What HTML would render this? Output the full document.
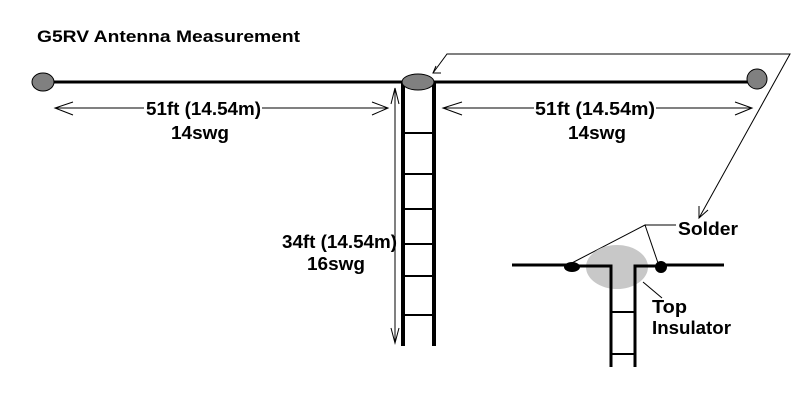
<!DOCTYPE html>
<html><head><style>body{margin:0;background:#fff}svg{display:block}text{font-family:"Liberation Sans",Arial,sans-serif;font-weight:bold;fill:#000}</style></head>
<body>
<svg width="800" height="415" viewBox="0 0 800 415" xmlns="http://www.w3.org/2000/svg">
<text x="37" y="42" font-size="17" textLength="263" lengthAdjust="spacingAndGlyphs">G5RV Antenna Measurement</text>
<line x1="43" y1="82" x2="757" y2="82" stroke="#000" stroke-width="3"/>
<ellipse cx="43" cy="82" rx="11" ry="9" fill="#808080" stroke="#000" stroke-width="1"/>
<ellipse cx="757" cy="79" rx="10" ry="10" fill="#808080" stroke="#000" stroke-width="1"/>
<g stroke="#000" stroke-width="4">
<line x1="403" y1="82" x2="403" y2="346"/>
<line x1="434" y1="82" x2="434" y2="346"/>
</g>
<g stroke="#000" stroke-width="2">
<line x1="403" y1="133" x2="434" y2="133"/>
<line x1="403" y1="174" x2="434" y2="174"/>
<line x1="403" y1="209" x2="434" y2="209"/>
<line x1="403" y1="244" x2="434" y2="244"/>
<line x1="403" y1="276" x2="434" y2="276"/>
<line x1="403" y1="315" x2="434" y2="315"/>
</g>
<ellipse cx="418" cy="82" rx="16" ry="8" fill="#808080" stroke="#000" stroke-width="1"/>
<g stroke="#000" stroke-width="1" fill="none">
<line x1="55" y1="108" x2="144" y2="108"/><line x1="262" y1="108" x2="388" y2="108"/>
<polyline points="73,102 55,108 73,115"/><polyline points="372,102 388,108 372,115"/>
<line x1="443" y1="108" x2="534" y2="108"/><line x1="656" y1="108" x2="752" y2="108"/>
<polyline points="462,102 443,108 462,115"/><polyline points="735,102 752,108 735,115"/>
<line x1="395" y1="88" x2="395" y2="343"/>
<polyline points="391,104 395,88 399,104"/><polyline points="391,328 395,343 399,328"/>
<polyline points="433,73 447,54 790,54 699,218"/>
<polyline points="436,66 433,73 441,73"/>
<polyline points="699,206 699,218 708,210"/>
<polyline points="568,265 645,225 658,263"/>
<line x1="645" y1="225" x2="676" y2="225"/>
<line x1="643" y1="282" x2="662" y2="298"/>
</g>
<text x="146" y="115" font-size="18" textLength="115" lengthAdjust="spacingAndGlyphs">51ft (14.54m)</text>
<text x="171" y="139" font-size="18" textLength="58" lengthAdjust="spacingAndGlyphs">14swg</text>
<text x="535" y="115" font-size="18" textLength="120" lengthAdjust="spacingAndGlyphs">51ft (14.54m)</text>
<text x="568" y="139" font-size="18" textLength="58" lengthAdjust="spacingAndGlyphs">14swg</text>
<text x="282" y="248" font-size="18" textLength="115" lengthAdjust="spacingAndGlyphs">34ft (14.54m)</text>
<text x="307" y="270" font-size="18" textLength="58" lengthAdjust="spacingAndGlyphs">16swg</text>
<ellipse cx="617" cy="267" rx="31" ry="22" fill="#c8c8c8"/>
<g stroke="#000" stroke-width="3" fill="none">
<polyline points="575,266 611,266 611,367"/>
<polyline points="660,266 635,266 635,367"/>
<line x1="512" y1="265" x2="575" y2="265"/><line x1="660" y1="265" x2="724" y2="265"/>
</g>
<g stroke="#000" stroke-width="2"><line x1="611" y1="312" x2="635" y2="312"/><line x1="611" y1="354" x2="635" y2="354"/></g>
<ellipse cx="572" cy="267" rx="8" ry="5" fill="#000"/>
<ellipse cx="661" cy="267" rx="6" ry="6" fill="#000"/>
<text x="678" y="235" font-size="18" textLength="60" lengthAdjust="spacingAndGlyphs">Solder</text>
<text x="652" y="313" font-size="18" textLength="35" lengthAdjust="spacingAndGlyphs">Top</text>
<text x="652" y="334" font-size="18" textLength="79" lengthAdjust="spacingAndGlyphs">Insulator</text>
</svg>
</body></html>
